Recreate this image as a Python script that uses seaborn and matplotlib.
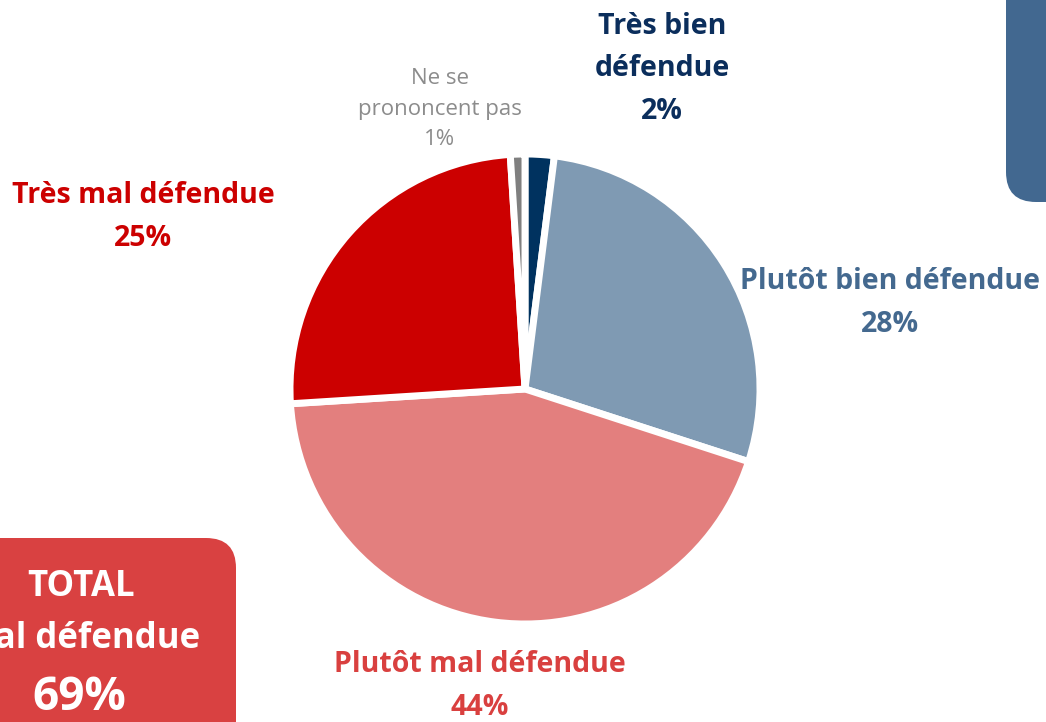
import matplotlib
matplotlib.use("Agg")
import matplotlib.pyplot as plt
import seaborn as sns
from matplotlib.patches import FancyBboxPatch

# data, clockwise from the top
categories = ["Très bien défendue", "Plutôt bien défendue", "Plutôt mal défendue",
              "Très mal défendue", "Ne se prononcent pas"]
shares = [2, 28, 44, 25, 1]
slice_colors = ["#00325F", "#7F9AB3", "#E37F7E", "#CC0000", "#7F7F7F"]
label_colors = ["#0B2E5C", "#44698F", "#D9403F", "#CC0000", "#8C8C8C"]
label_texts = ["Très bien\ndéfendue\n2%", "Plutôt bien défendue\n28%",
               "Plutôt mal défendue\n44%", "Très mal défendue\n25%",
               "Ne se\nprononcent pas\n1%"]
total_title = "TOTAL\nMal défendue"
total_value = "69%"

W, H = 1046, 722

sns.set_theme(style="white")
plt.rcParams["font.family"] = ["Open Sans", "DejaVu Sans"]

fig = plt.figure(figsize=(W / 100, H / 100), dpi=100)
ax = fig.add_axes([0, 0, 1, 1])


def py(y):
    return H - y


ax.pie(
    shares,
    colors=slice_colors,
    startangle=90,
    counterclock=False,
    center=(525, py(389)),
    radius=235,
    frame=True,
    wedgeprops=dict(edgecolor="white", linewidth=5),
)

# label positions in pixel coordinates
label_pos = [(662, 69), (890, 303), (480, 686), (143, 217), (440, 109)]
for i, (txt, (x, y)) in enumerate(zip(label_texts, label_pos)):
    faint = categories[i] == "Ne se prononcent pas"
    ax.text(x, py(y), txt, ha="center", va="center", color=label_colors[i],
            fontsize=16 if faint else 20.5, fontweight="normal" if faint else "bold",
            linespacing=1.6)

# side boxes, partly cut off by the figure edge
ax.add_patch(FancyBboxPatch((-60, py(722 + 40)), 296, 224,
                            boxstyle="round,pad=0,rounding_size=30",
                            facecolor="#D94141", edgecolor="none"))
ax.text(81, py(613), total_title, ha="center", va="center", color="white",
        fontsize=25, fontweight="bold", linespacing=1.58)
ax.text(79, py(698), total_value, ha="center", va="center", color="white",
        fontsize=33, fontweight="bold")

ax.add_patch(FancyBboxPatch((1006, py(202)), 120, 240,
                            boxstyle="round,pad=0,rounding_size=30",
                            facecolor="#426890", edgecolor="none"))

ax.set_xlim(0, W)
ax.set_ylim(0, H)
ax.set_aspect("equal")
ax.axis("off")

fig.savefig("out.png", dpi=100)
